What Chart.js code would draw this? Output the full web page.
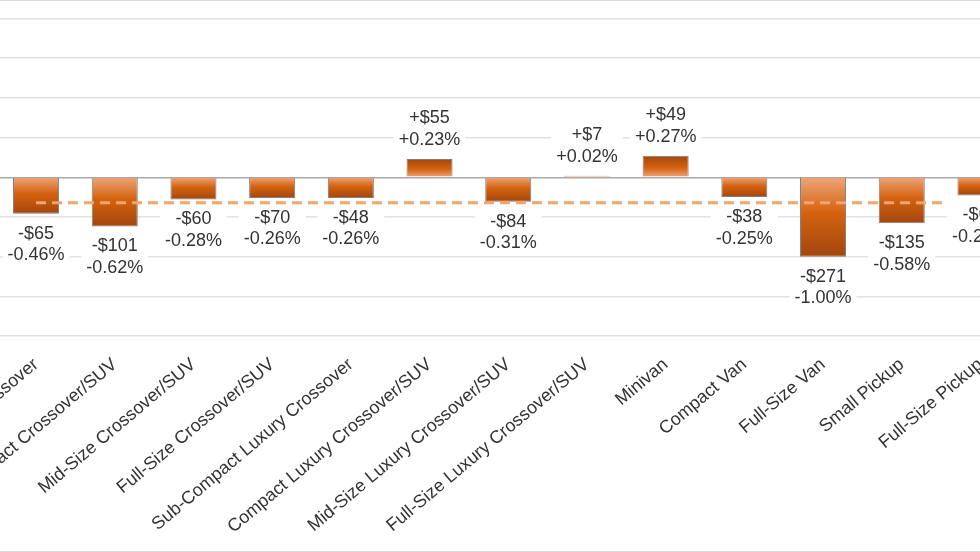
<!DOCTYPE html>
<html>
<head>
<meta charset="utf-8">
<script src="https://cdn.jsdelivr.net/npm/chart.js@4.4.1/dist/chart.umd.min.js"></script>
<style>
  html, body { margin: 0; padding: 0; background: #fff; overflow: hidden; }
  #frame {
    position: relative;
    width: 980px;
    height: 550px;
    border-top: 1px solid #dcdcdc;
    border-bottom: 1px solid #dcdcdc;
    overflow: hidden;
  }
  #holder { position: absolute; left: -20px; top: -1px; width: 1060px; height: 552px; }
</style>
</head>
<body>
<div id="frame">
  <div id="holder"><canvas id="chart"></canvas></div>
</div>
<script>
// segments, change in average transaction price
const segments = [
  'Sub-Compact Crossover', 'Compact Crossover/SUV', 'Mid-Size Crossover/SUV',
  'Full-Size Crossover/SUV', 'Sub-Compact Luxury Crossover', 'Compact Luxury Crossover/SUV',
  'Mid-Size Luxury Crossover/SUV', 'Full-Size Luxury Crossover/SUV', 'Minivan',
  'Compact Van', 'Full-Size Van', 'Small Pickup', 'Full-Size Pickup'
];
const pctChange = [-0.46, -0.62, -0.28, -0.26, -0.26, 0.23, -0.31, 0.02, 0.27, -0.25, -1.00, -0.58, -0.23];
const dollarLabels = ['-$65', '-$101', '-$60', '-$70', '-$48', '+$55', '-$84', '+$7', '+$49', '-$38', '-$271', '-$135', '-$63'];
const pctLabels = ['-0.46%', '-0.62%', '-0.28%', '-0.26%', '-0.26%', '+0.23%', '-0.31%', '+0.02%', '+0.27%', '-0.25%', '-1.00%', '-0.58%', '-0.23%'];

// dashed industry average
const avgLineX = [0, 11.55];
const avgLineY = [-0.32, -0.32];

const yMin = -2.0;
const yMax = 2.0;
const yStep = 0.5;

const labelFont = '18px "Liberation Sans", Arial, sans-serif';

function barFill(ctx) {
  const y = ctx.chart.scales.y;
  if (!y || ctx.raw == null) return '#d2600e';
  const y0 = y.getPixelForValue(0);
  const y1 = y.getPixelForValue(ctx.raw);
  if (!isFinite(y0) || !isFinite(y1) || Math.abs(y1 - y0) < 1) return '#d2600e';
  const g = ctx.chart.ctx.createLinearGradient(0, y0, 0, y1);
  g.addColorStop(0, '#eea478');
  g.addColorStop(0.45, '#d4620f');
  g.addColorStop(1, '#a2460e');
  return g;
}

// two line value labels on a white box, like the original
const valueLabels = {
  id: 'valueLabels',
  afterDatasetsDraw(chart) {
    const meta = chart.getDatasetMeta(1);
    const c = chart.ctx;
    c.save();
    c.font = labelFont;
    c.textAlign = 'center';
    c.textBaseline = 'middle';
    meta.data.forEach((bar, i) => {
      const v = pctChange[i];
      const lines = [dollarLabels[i], pctLabels[i]];
      let first;
      if (v < 0) first = bar.y + 20;
      else first = bar.y - 19 - 21.5;
      const w = Math.max(...lines.map(t => c.measureText(t).width)) + 10;
      c.fillStyle = '#fff';
      c.fillRect(bar.x - w / 2, first - 11, w, 44);
      c.fillStyle = '#333';
      lines.forEach((t, k) => c.fillText(t, bar.x, first + k * 21.5));
    });
    c.restore();
  }
};

new Chart(document.getElementById('chart'), {
  type: 'bar',
  data: {
    labels: segments,
    datasets: [
      {
        type: 'line',
        xAxisID: 'xl',
        data: avgLineX.map((x, i) => ({ x: x, y: avgLineY[i] })),
        borderColor: '#f4a46e',
        borderWidth: 3,
        borderDash: [10, 6],
        pointRadius: 0,
        fill: false,
        order: 0
      },
      {
        type: 'bar',
        data: pctChange,
        backgroundColor: barFill,
        borderColor: '#7e7e7e',
        borderWidth: 1,
        grouped: false,
        categoryPercentage: 1,
        barPercentage: 0.585,
        order: 1
      }
    ]
  },
  options: {
    responsive: true,
    maintainAspectRatio: false,
    animation: false,
    layout: { padding: { left: 16.7, right: 20.2, top: 18.5, bottom: 0 } },
    plugins: { legend: { display: false }, tooltip: { enabled: false } },
    scales: {
      x: {
        type: 'category',
        grid: { display: false },
        border: { display: false },
        ticks: {
          autoSkip: false,
          minRotation: 40,
          maxRotation: 40,
          color: '#333',
          padding: 10,
          font: { family: '"Liberation Sans", Arial, sans-serif', size: 18 }
        },
        afterFit(s) {
          s.height = 552 - 336;
          s.paddingLeft = 0;
          s.paddingRight = 0;
        }
      },
      xl: {
        type: 'linear',
        display: false,
        offset: false,
        min: -0.5,
        max: segments.length - 0.5
      },
      y: {
        min: yMin,
        max: yMax,
        border: { display: false },
        ticks: { display: false, stepSize: yStep },
        grid: {
          drawTicks: false,
          color: ctx => (ctx.tick && ctx.tick.value === 0) ? '#a9a9a9' : '#e2e2e2',
          lineWidth: 1.5
        },
        afterFit(s) { s.width = 0; }
      }
    }
  },
  plugins: [valueLabels]
});
</script>
</body>
</html>
